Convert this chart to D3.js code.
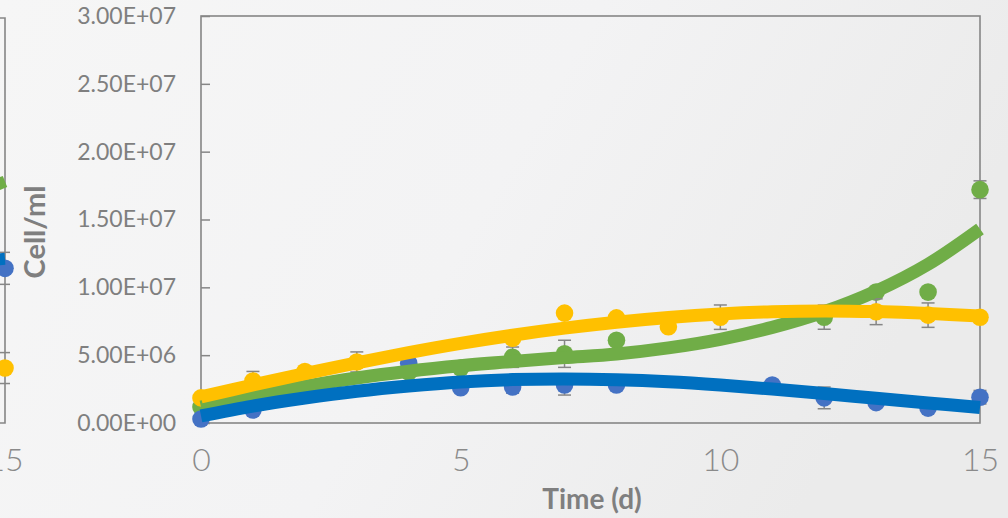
<!DOCTYPE html>
<html>
<head>
<meta charset="utf-8">
<script src="https://cdn.jsdelivr.net/npm/d3@7"></script>
<style>
  html, body { margin: 0; padding: 0; background: #f3f3f3; }
  svg { display: block; }
</style>
</head>
<body>
<script>
// ---- data: cell density (cells/ml) by day ----
const days = [0, 1, 2, 3, 4, 5, 6, 7, 8, 9, 10, 11, 12, 13, 14, 15];

// measured means and standard deviations (null = not sampled that day)
const blueMean   = [3.0e5, 9.6e5, null, null, 4.4e6, 2.6e6, 2.65e6, 2.8e6, 2.8e6, null, null, 2.8e6, 1.85e6, 1.5e6, 1.1e6, 1.9e6];
const blueSd     = [0, 0, 0, 0, 0, 0, 4.5e5, 7.4e5, 0, 0, 0, 0, 8.0e5, 0, 0, 5.0e5];

const greenMean  = [1.18e6, null, null, null, 3.75e6, 4.05e6, 4.85e6, 5.1e6, 6.1e6, null, null, null, 7.8e6, 9.65e6, 9.65e6, 1.72e7];
const greenSd    = [0, 0, 0, 0, 0, 0, 7.5e5, 1.0e6, 0, 0, 0, 0, 8.9e5, 0, 0, 6.5e5];

const yellowMean = [1.85e6, 3.1e6, 3.8e6, 4.5e6, null, null, 6.25e6, 8.1e6, 7.75e6, 7.1e6, 7.8e6, null, null, 8.2e6, 7.95e6, 7.8e6];
const yellowSd   = [0, 7.0e5, 0, 7.4e5, 0, 0, 0, 0, 0, 0, 9.0e5, 0, 0, 9.5e5, 9.0e5, 0];

// fitted growth curves, one value per day
const blueFit   = [5.2e5, 1.25e6, 1.84e6, 2.34e6, 2.73e6, 3.03e6, 3.2e6, 3.25e6, 3.19e6, 3.04e6, 2.8e6, 2.5e6, 2.17e6, 1.82e6, 1.48e6, 1.14e6];
const greenFit  = [1.18e6, 1.98e6, 2.7e6, 3.32e6, 3.82e6, 4.22e6, 4.54e6, 4.82e6, 5.09e6, 5.54e6, 6.17e6, 7.05e6, 8.2e6, 9.72e6, 1.17e7, 1.43e7];
const yellowFit = [1.92e6, 2.8e6, 3.64e6, 4.44e6, 5.19e6, 5.87e6, 6.47e6, 6.99e6, 7.43e6, 7.78e6, 8.04e6, 8.2e6, 8.26e6, 8.21e6, 8.08e6, 7.88e6];

// last day of the neighbouring panel (only its right edge is in view)
const prevLastMean = [1.14e7, 4.05e6];          // blue, yellow
const prevLastSd   = [1.18e6, 1.14e6];
const prevTrendDays  = [14.6, 15];
const prevBlueTrend  = [1.20e7, 1.21e7];
const prevGreenTrend = [1.72e7, 1.78e7];

const yTicks = [0, 5e6, 1e7, 1.5e7, 2e7, 2.5e7, 3e7];
const xTicks = [0, 5, 10, 15];

const colors = {
  blue:   { point: "#4472C4", trend: "#0070C0" },
  green:  { point: "#70AD47", trend: "#70AD47" },
  yellow: { point: "#FFC000", trend: "#FFC000" }
};

// ---- helpers ----
function sci(v) {
  if (v === 0) return "0.00E+00";
  const e = Math.floor(Math.log10(v) + 1e-9);
  const m = v / Math.pow(10, e);
  return m.toFixed(2) + "E+" + String(e).padStart(2, "0");
}

// ---- layout ----
const W = 1008, H = 518;
const svg = d3.select("body").append("svg").attr("width", W).attr("height", H);

const defs = svg.append("defs");
const grad = defs.append("linearGradient").attr("id", "bg").attr("x1", "0").attr("x2", "1").attr("y1", "0").attr("y2", "0.3");
grad.append("stop").attr("offset", "0").attr("stop-color", "#f6f6f6");
grad.append("stop").attr("offset", "0.55").attr("stop-color", "#f3f3f4");
grad.append("stop").attr("offset", "1").attr("stop-color", "#ebebeb");
svg.append("rect").attr("width", W).attr("height", H).attr("fill", "url(#bg)");

const x = d3.scaleLinear().domain([0, 15]).range([201, 980]);
const y = d3.scaleLinear().domain([0, 3e7]).range([423, 16]);
const xPrev = d3.scaleLinear().domain([0, 15]).range([5 - 779, 5]);

const axisGrey = "#868686";
const textGrey = "#7f7f7f";

// ---- neighbouring panel edge ----
const prev = svg.append("g");
prev.append("path")
  .attr("d", `M-20,${y(3e7) + 2}H${xPrev(15)}V${y(0)}H-20`)
  .attr("fill", "none").attr("stroke", axisGrey).attr("stroke-width", 1.6);
const prevColors = [colors.blue.point, colors.yellow.point];
prevLastMean.forEach((v, i) => {
  const sd = prevLastSd[i];
  [v - sd, v + sd].forEach(e => {
    prev.append("line").attr("x1", xPrev(15) - 5).attr("x2", xPrev(15) + 5)
      .attr("y1", y(e)).attr("y2", y(e)).attr("stroke", axisGrey).attr("stroke-width", 1.5);
  });
  prev.append("circle").attr("cx", xPrev(15)).attr("cy", y(v)).attr("r", 8.8).attr("fill", prevColors[i]);
});
const prevLine = d3.line().x(d => xPrev(d[0])).y(d => y(d[1]));
[[prevBlueTrend, colors.blue.trend], [prevGreenTrend, colors.green.trend]].forEach(([vals, c]) => {
  prev.append("path").attr("d", prevLine(prevTrendDays.map((d, i) => [d, vals[i]])))
    .attr("fill", "none").attr("stroke", c).attr("stroke-width", 12);
});
prev.append("text").attr("x", xPrev(15)).attr("y", 460).attr("dy", "0.35em")
  .attr("text-anchor", "middle").attr("font-family", "Lato, sans-serif").attr("font-weight", 300)
  .attr("font-size", 32).attr("fill", "#8a8a8a").text("15");

// ---- axes ----
const yAxis = svg.append("g").attr("transform", `translate(${x(0)},0)`)
  .call(d3.axisLeft(y).tickValues(yTicks).tickSize(-9).tickPadding(25).tickFormat(sci));
yAxis.select(".domain").remove();
yAxis.selectAll(".tick line").attr("stroke", axisGrey).attr("stroke-width", 1.5);
yAxis.selectAll(".tick text").attr("font-family", "Lato, sans-serif").attr("font-size", 23)
  .attr("fill", textGrey);

const xAxis = svg.append("g").attr("transform", `translate(0,${y(0)})`)
  .call(d3.axisBottom(x).tickValues(xTicks).tickSize(0).tickPadding(37).tickFormat(d3.format("d")));
xAxis.select(".domain").remove();
xAxis.selectAll(".tick text").attr("font-family", "Lato, sans-serif").attr("font-weight", 300)
  .attr("font-size", 32).attr("fill", "#8a8a8a").attr("dy", "0.35em");

// plot frame
svg.append("rect").attr("x", x(0)).attr("y", y(3e7)).attr("width", x(15) - x(0)).attr("height", y(0) - y(3e7))
  .attr("fill", "none").attr("stroke", axisGrey).attr("stroke-width", 1.6);

// axis titles
svg.append("text").attr("x", 592).attr("y", 509).attr("text-anchor", "middle")
  .attr("font-family", "Lato, sans-serif").attr("font-weight", 700).attr("font-size", 28)
  .attr("fill", textGrey).text("Time (d)");
svg.append("text").attr("transform", "translate(45,232) rotate(-90)").attr("text-anchor", "middle")
  .attr("font-family", "Lato, sans-serif").attr("font-weight", 700).attr("font-size", 29)
  .attr("fill", textGrey).text("Cell/ml");

// ---- series ----
const series = [
  { name: "green",  mean: greenMean,  sd: greenSd,  fit: greenFit,  c: colors.green },
  { name: "blue",   mean: blueMean,   sd: blueSd,   fit: blueFit,   c: colors.blue },
  { name: "yellow", mean: yellowMean, sd: yellowSd, fit: yellowFit, c: colors.yellow }
];

// points with error bars
const marks = svg.append("g");
series.forEach(s => {
  const g = marks.append("g");
  const obs = days.map((d, i) => ({ d, v: s.mean[i], sd: s.sd[i] })).filter(o => o.v !== null);
  obs.forEach(o => {
    if (o.sd > 0) {
      g.append("line").attr("x1", x(o.d)).attr("x2", x(o.d)).attr("y1", y(o.v - o.sd)).attr("y2", y(o.v + o.sd))
        .attr("stroke", axisGrey).attr("stroke-width", 1.5);
      [o.v - o.sd, o.v + o.sd].forEach(e => {
        g.append("line").attr("x1", x(o.d) - 6.5).attr("x2", x(o.d) + 6.5).attr("y1", y(e)).attr("y2", y(e))
          .attr("stroke", axisGrey).attr("stroke-width", 1.5);
      });
    }
  });
  g.selectAll("circle").data(obs).join("circle")
    .attr("cx", o => x(o.d)).attr("cy", o => y(o.v)).attr("r", 8.8).attr("fill", s.c.point);
});

// smooth fitted curves drawn over the points
const fitLine = d3.line().x(d => x(d[0])).y(d => y(d[1])).curve(d3.curveCatmullRom.alpha(0.5));
const trends = svg.append("g");
series.forEach(s => {
  trends.append("path")
    .attr("d", fitLine(days.map((d, i) => [d, s.fit[i]])))
    .attr("fill", "none").attr("stroke", s.c.trend).attr("stroke-width", 13);
});
</script>
</body>
</html>
